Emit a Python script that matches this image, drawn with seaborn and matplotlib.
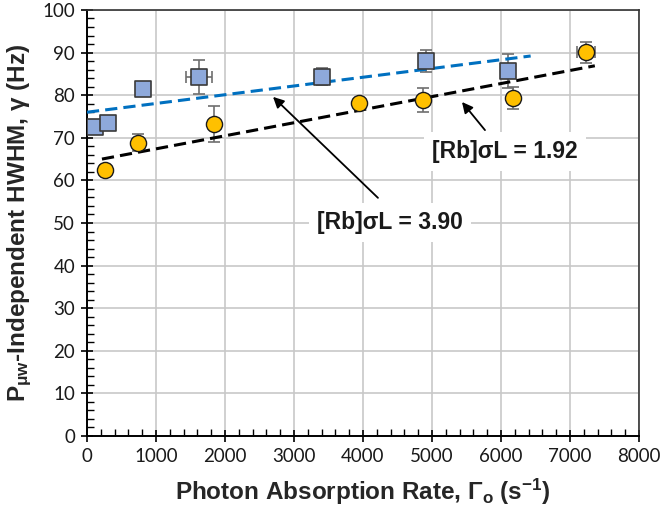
import matplotlib
matplotlib.use("Agg")
import matplotlib.pyplot as plt
from matplotlib.ticker import MultipleLocator
import seaborn as sns
import pandas as pd

# Photon absorption rate (s^-1) and HWHM (Hz) with uncertainties
sq_x = [116, 304, 810, 1620, 3400, 4910, 6100]
sq_y = [72.5, 73.5, 81.4, 84.2, 84.3, 88.0, 85.7]
sq_yerr = [1.5, 1.3, 1.6, 4.0, 2.0, 2.5, 4.0]
sq_xerr = [0, 0, 0, 190, 0, 0, 0]

ci_x = [260, 740, 1840, 3940, 4870, 6170, 7230]
ci_y = [62.4, 68.8, 73.2, 78.1, 78.9, 79.4, 90.1]
ci_yerr = [1.2, 2.0, 4.2, 1.0, 2.8, 2.6, 2.5]
ci_xerr = [0, 0, 0, 0, 0, 0, 130]

# Linear fits, drawn between their end points
fit_hi_x = [0, 6430]
fit_hi_y = [76.0, 89.2]
fit_lo_x = [217, 7360]
fit_lo_y = [65.0, 86.9]

label_hi = "[Rb]σL = 3.90"
label_lo = "[Rb]σL = 1.92"

x_ticks = list(range(0, 8001, 1000))
y_ticks = list(range(0, 101, 10))

sns.set_theme(style="white")
plt.rcParams["font.family"] = ["Lato", "DejaVu Sans"]
plt.rcParams["mathtext.fontset"] = "custom"
plt.rcParams["mathtext.rm"] = "Liberation Sans:bold"
plt.rcParams["mathtext.bf"] = "Liberation Sans:bold"
plt.rcParams["mathtext.it"] = "Liberation Sans:bold"

fig = plt.figure(figsize=(6.61, 5.17), dpi=100)
ax = fig.add_axes([0.1316, 0.1567, 0.8351, 0.824])

ax.grid(True, which="major", color="#c8c8c8", linewidth=1.2, zorder=0)
ax.set_axisbelow(True)

sq = pd.DataFrame({"x": sq_x, "y": sq_y})
ci = pd.DataFrame({"x": ci_x, "y": ci_y})

ax.errorbar(sq_x, sq_y, yerr=sq_yerr, xerr=sq_xerr, fmt="none",
            ecolor="#6e6e6e", elinewidth=1.2, capsize=4, capthick=1.2, zorder=2)
ax.errorbar(ci_x, ci_y, yerr=ci_yerr, xerr=ci_xerr, fmt="none",
            ecolor="#6e6e6e", elinewidth=1.2, capsize=4, capthick=1.2, zorder=2)

sns.lineplot(x=fit_hi_x, y=fit_hi_y, ax=ax, color="#0070C0", linewidth=2.2,
             zorder=3)
ax.lines[-1].set_dashes([4, 2])
sns.lineplot(x=fit_lo_x, y=fit_lo_y, ax=ax, color="black", linewidth=2.2,
             zorder=3)
ax.lines[-1].set_dashes([4, 2])

sns.scatterplot(data=sq, x="x", y="y", ax=ax, marker="s", s=135,
                color="#8EA9DB", edgecolor="#3a3a3a", linewidth=1.2, zorder=4)
sns.scatterplot(data=ci, x="x", y="y", ax=ax, marker="o", s=135,
                color="#FFC000", edgecolor="#1a1a1a", linewidth=1.0, zorder=4)

ax.set_xlim(0, 8000)
ax.set_ylim(0, 100)
ax.set_xticks(x_ticks)
ax.set_yticks(y_ticks)
ax.xaxis.set_minor_locator(MultipleLocator(200))
ax.yaxis.set_minor_locator(MultipleLocator(2))
ax.tick_params(which="major", direction="inout", length=9, width=1.2,
               colors="black", labelsize=13.5, labelcolor="#1a1a1a",
               bottom=True, left=True, pad=4)
ax.tick_params(which="minor", direction="in", length=5, width=1.0,
               colors="black", bottom=True, left=True)

for side in ["left", "bottom"]:
    ax.spines[side].set_color("black")
    ax.spines[side].set_linewidth(1.4)
for side in ["top", "right"]:
    ax.spines[side].set_color("#333333")
    ax.spines[side].set_linewidth(1.2)

ax.set_xlabel(r"Photon Absorption Rate, $\Gamma_{\mathregular{o}}$ (s$^{\mathregular{-1}}$)",
              fontsize=17.5, fontweight="bold", family="Liberation Sans", labelpad=9)
ax.set_ylabel(r"P$_{\mu\mathregular{w}}$-Independent HWHM, $\gamma$ (Hz)",
              fontsize=17.5, fontweight="bold", family="Liberation Sans", labelpad=6)

arrow = dict(arrowstyle="-|>", color="black", linewidth=1.3,
             mutation_scale=16, shrinkA=0, shrinkB=0)
ax.annotate("", xy=(2696, 79.6), xytext=(4217, 55.9), arrowprops=arrow, zorder=5)
ax.annotate("", xy=(5435, 78.4), xytext=(5768, 71.8), arrowprops=arrow, zorder=5)

box = dict(boxstyle="square,pad=0.35", facecolor="white", edgecolor="none")
ax.text(4391, 50.2, label_hi, ha="center", va="center", fontsize=16.5,
        fontweight="bold", family="Liberation Sans", color="#1a1a1a",
        bbox=box, zorder=5)
ax.text(6058, 66.7, label_lo, ha="center", va="center", fontsize=16.5,
        fontweight="bold", family="Liberation Sans", color="#1a1a1a",
        bbox=box, zorder=5)

fig.savefig("out.png", dpi=100)
